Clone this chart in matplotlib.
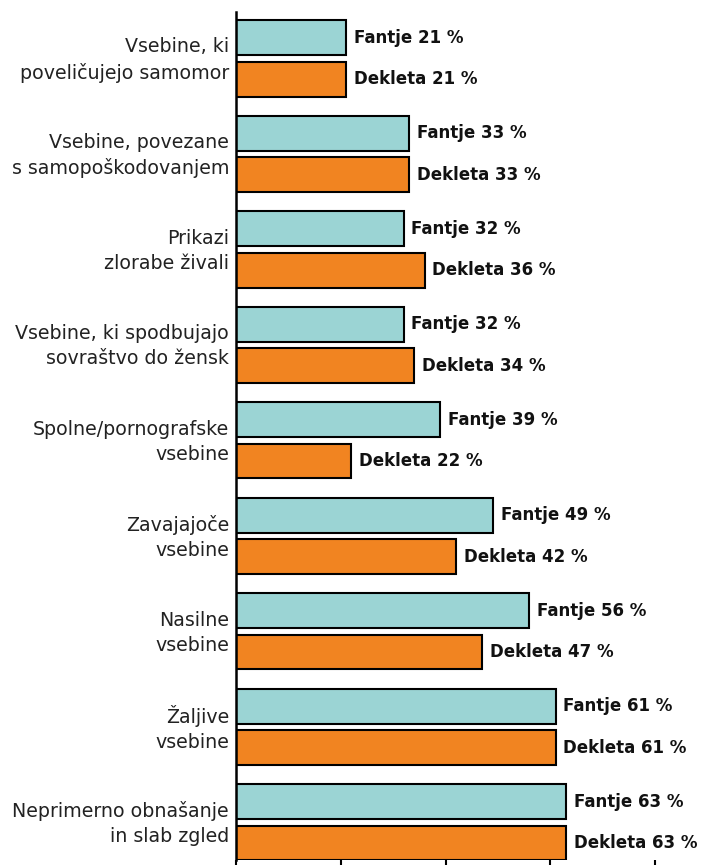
import numpy as np
import matplotlib.pyplot as plt
import matplotlib.transforms as mtransforms

# data
categories = [
    "Vsebine, ki\npoveličujejo samomor",
    "Vsebine, povezane\ns samopoškodovanjem",
    "Prikazi\nzlorabe živali",
    "Vsebine, ki spodbujajo\nsovraštvo do žensk",
    "Spolne/pornografske\nvsebine",
    "Zavajajoče\nvsebine",
    "Nasilne\nvsebine",
    "Žaljive\nvsebine",
    "Neprimerno obnašanje\nin slab zgled",
]
fantje = [21, 33, 32, 32, 39, 49, 56, 61, 63]
dekleta = [21, 33, 36, 34, 22, 42, 47, 61, 63]
x_ticks = [0, 20, 40, 60, 80]

teal = "#9BD4D4"
orange = "#F18421"

plt.rcParams['font.family'] = ['DejaVu Sans']

fig = plt.figure(figsize=(7.01, 8.65), dpi=100)
ax = fig.add_axes([236/701, 5/865, 461/701, 848/865])

y = np.arange(len(categories))
off = 0.215
h = 0.366
ax.barh(y - off, fantje, height=h, color=teal, edgecolor="black", linewidth=1.5)
ax.barh(y + off, dekleta, height=h, color=orange, edgecolor="black", linewidth=1.5)

for i in range(len(categories)):
    ax.text(fantje[i] + 1.5, y[i] - off, f"Fantje {fantje[i]} %", va="center",
            ha="left", fontsize=12, fontweight="bold", color="#111111")
    ax.text(dekleta[i] + 1.5, y[i] + off, f"Dekleta {dekleta[i]} %", va="center",
            ha="left", fontsize=12, fontweight="bold", color="#111111")

# category labels left of the axis
trans = mtransforms.blended_transform_factory(ax.transAxes, ax.transData)
trans = trans + mtransforms.ScaledTranslation(-7/100, -1.5/100, fig.dpi_scale_trans)
for i, lab in enumerate(categories):
    ax.text(0, y[i], lab, transform=trans, ha="right", va="center",
            fontsize=13.7, color="#222222", linespacing=1.4, multialignment="right")

ax.set_xlim(0, 88)
ax.set_ylim(8.393, -0.487)
ax.set_yticks([])
ax.set_xticks(x_ticks)
ax.tick_params(axis="x", length=10, width=1.5, direction="out", labelbottom=False)
for s in ["top", "right", "bottom"]:
    ax.spines[s].set_visible(False)
ax.spines["left"].set_linewidth(1.8)

fig.savefig("out.png", dpi=100)
